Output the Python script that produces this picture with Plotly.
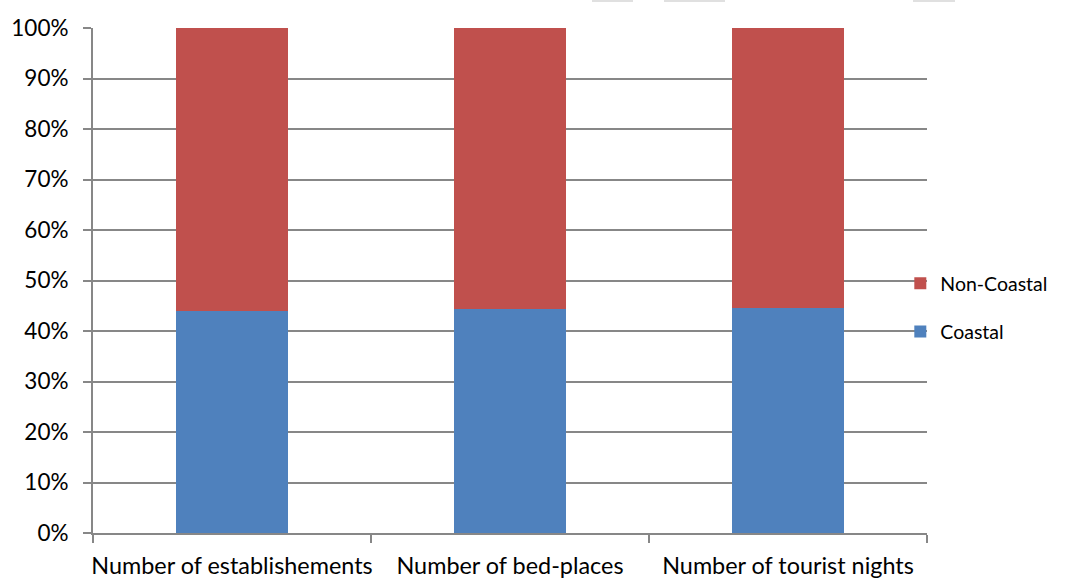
import plotly.graph_objects as go

# Share of accommodation indicators by coastal / non-coastal areas
categories = ["Number of establishements", "Number of bed-places", "Number of tourist nights"]
coastal = [44.0, 44.4, 44.5]
non_coastal = [56.0, 55.6, 55.5]

y_ticks = [0, 10, 20, 30, 40, 50, 60, 70, 80, 90, 100]
y_tick_text = [f"{v}%" for v in y_ticks]

FONT = "Lato"
GRID = "#878787"

fig = go.Figure()
fig.add_trace(go.Bar(
    name="Coastal", x=categories, y=coastal,
    marker=dict(color="#4F81BD", line=dict(width=0)),
    legendgroup="c", legendrank=2,
))
fig.add_trace(go.Bar(
    name="Non-Coastal", x=categories, y=non_coastal,
    marker=dict(color="#C0504D", line=dict(width=0)),
    legendgroup="n", legendrank=1,
))

# faint tabs along the top edge of the canvas
for x0, x1 in [(592, 633), (664, 725), (913, 955)]:
    fig.add_shape(
        type="rect", xref="paper", yref="paper",
        x0=(x0 - 93) / 834, x1=(x1 - 93) / 834,
        y0=(533 - 2) / 505, y1=(533 + 2) / 505,
        fillcolor="#e0e0e0", line=dict(width=0), layer="above",
    )

fig.update_layout(
    barmode="stack",
    bargap=0.6,
    width=1075, height=578,
    margin=dict(l=93, r=148, t=28, b=45, pad=0, autoexpand=False),
    paper_bgcolor="white",
    plot_bgcolor="white",
    font=dict(family=FONT, size=21, color="black"),
    showlegend=True,
    legend=dict(
        x=0.968, xanchor="left", y=0.4465, yanchor="middle",
        traceorder="grouped", tracegroupgap=20,
        font=dict(family=FONT, size=19.5, color="black"),
        bgcolor="rgba(0,0,0,0)", itemwidth=30,
    ),
    xaxis=dict(
        type="category",
        tickson="boundaries",
        ticks="outside", ticklen=8, tickcolor=GRID, tickwidth=2,
        showline=True, linecolor=GRID, linewidth=2,
        showgrid=False,
        tickangle=0,
        automargin=False,
        tickfont=dict(family=FONT, size=23.4),
        ticklabelstandoff=11,
        fixedrange=True,
    ),
    yaxis=dict(
        range=[0, 100],
        tickvals=y_ticks, ticktext=y_tick_text,
        ticks="outside", ticklen=8, tickcolor=GRID, tickwidth=2,
        showline=True, linecolor=GRID, linewidth=2,
        showgrid=True, gridcolor=GRID, gridwidth=2,
        zeroline=False,
        automargin=False,
        tickfont=dict(family=FONT, size=22.5),
        ticklabelstandoff=10,
        fixedrange=True,
    ),
)

fig.write_html("out.html")
